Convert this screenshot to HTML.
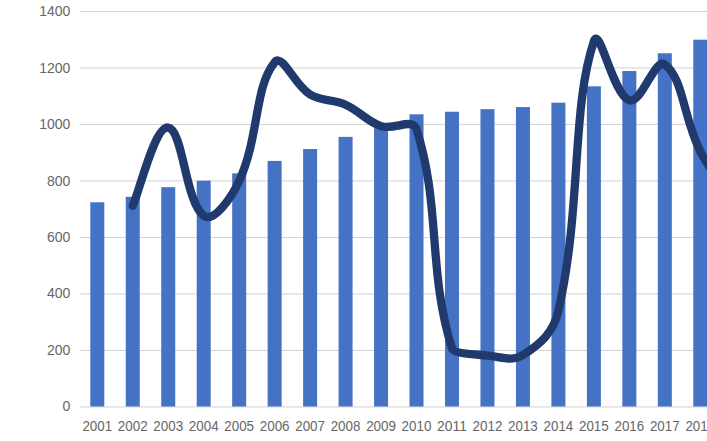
<!DOCTYPE html>
<html><head><meta charset="utf-8"><style>
html,body{margin:0;padding:0;background:#fff;width:707px;height:441px;overflow:hidden}
svg{display:block}
text{font-family:"Liberation Sans",sans-serif;font-size:14px;fill:#666666}
</style></head><body>
<svg width="707" height="441" viewBox="0 0 707 441">
<rect width="707" height="441" fill="#fff"/>
<rect x="80" y="10.90" width="627" height="1" fill="#D2D2D2"/>
<rect x="80" y="67.41" width="627" height="1" fill="#D2D2D2"/>
<rect x="80" y="123.92" width="627" height="1" fill="#D2D2D2"/>
<rect x="80" y="180.43" width="627" height="1" fill="#D2D2D2"/>
<rect x="80" y="236.94" width="627" height="1" fill="#D2D2D2"/>
<rect x="80" y="293.45" width="627" height="1" fill="#D2D2D2"/>
<rect x="80" y="349.96" width="627" height="1" fill="#D2D2D2"/>
<rect x="80" y="406.47" width="627" height="1" fill="#D2D2D2"/>
<rect x="90.30" y="202.29" width="14.0" height="204.21" fill="#4472C4"/>
<rect x="125.76" y="196.78" width="14.0" height="209.72" fill="#4472C4"/>
<rect x="161.24" y="187.18" width="14.0" height="219.32" fill="#4472C4"/>
<rect x="196.70" y="180.68" width="14.0" height="225.82" fill="#4472C4"/>
<rect x="232.18" y="173.33" width="14.0" height="233.17" fill="#4472C4"/>
<rect x="267.64" y="160.90" width="14.0" height="245.60" fill="#4472C4"/>
<rect x="303.12" y="149.03" width="14.0" height="257.47" fill="#4472C4"/>
<rect x="338.58" y="136.88" width="14.0" height="269.62" fill="#4472C4"/>
<rect x="374.06" y="126.15" width="14.0" height="280.35" fill="#4472C4"/>
<rect x="409.52" y="114.28" width="14.0" height="292.22" fill="#4472C4"/>
<rect x="445.00" y="111.74" width="14.0" height="294.76" fill="#4472C4"/>
<rect x="480.46" y="109.19" width="14.0" height="297.31" fill="#4472C4"/>
<rect x="515.93" y="107.07" width="14.0" height="299.43" fill="#4472C4"/>
<rect x="551.40" y="102.69" width="14.0" height="303.81" fill="#4472C4"/>
<rect x="586.88" y="86.31" width="14.0" height="320.19" fill="#4472C4"/>
<rect x="622.35" y="71.05" width="14.0" height="335.45" fill="#4472C4"/>
<rect x="657.82" y="53.25" width="14.0" height="353.25" fill="#4472C4"/>
<rect x="693.29" y="39.69" width="14.0" height="366.81" fill="#4472C4"/>
<path d="M132.76,205.82 C139.86,190.17 154.76,125.68 168.24,127.56 C183.14,129.64 185.07,201.68 203.70,215.71 C213.44,223.05 231.05,198.52 239.18,180.96 C259.43,137.15 254.18,87.23 274.64,62.29 C282.56,52.64 294.08,84.92 310.12,94.50 C322.46,101.88 332.22,98.71 345.58,104.67 C360.60,111.37 365.79,120.86 381.06,126.15 C394.16,130.69 412.60,116.96 416.52,129.25 C440.98,205.91 427.59,270.66 452.00,348.51 C453.58,353.58 473.14,354.26 487.46,355.58 C501.52,356.86 512.00,361.89 522.93,355.01 C540.38,344.04 553.52,332.54 558.40,310.93 C581.89,207.09 571.24,108.56 593.88,41.38 C599.61,24.36 612.97,95.08 629.35,100.43 C641.34,104.35 654.88,57.43 664.82,64.55 C683.26,77.77 683.33,118.08 700.29,151.29 C711.71,173.68 728.66,193.11 735.75,203.56" fill="none" stroke="#203A6E" stroke-width="8.3" stroke-linecap="round" stroke-linejoin="round"/>
<text x="70.3" y="16" text-anchor="end">1400</text>
<text x="70.3" y="73" text-anchor="end">1200</text>
<text x="70.3" y="129" text-anchor="end">1000</text>
<text x="70.3" y="186" text-anchor="end">800</text>
<text x="70.3" y="242" text-anchor="end">600</text>
<text x="70.3" y="298" text-anchor="end">400</text>
<text x="70.3" y="355" text-anchor="end">200</text>
<text x="70.3" y="411" text-anchor="end">0</text>
<text x="97.30" y="430.5" text-anchor="middle" textLength="29.8" lengthAdjust="spacingAndGlyphs">2001</text>
<text x="132.76" y="430.5" text-anchor="middle" textLength="29.8" lengthAdjust="spacingAndGlyphs">2002</text>
<text x="168.24" y="430.5" text-anchor="middle" textLength="29.8" lengthAdjust="spacingAndGlyphs">2003</text>
<text x="203.70" y="430.5" text-anchor="middle" textLength="29.8" lengthAdjust="spacingAndGlyphs">2004</text>
<text x="239.18" y="430.5" text-anchor="middle" textLength="29.8" lengthAdjust="spacingAndGlyphs">2005</text>
<text x="274.64" y="430.5" text-anchor="middle" textLength="29.8" lengthAdjust="spacingAndGlyphs">2006</text>
<text x="310.12" y="430.5" text-anchor="middle" textLength="29.8" lengthAdjust="spacingAndGlyphs">2007</text>
<text x="345.58" y="430.5" text-anchor="middle" textLength="29.8" lengthAdjust="spacingAndGlyphs">2008</text>
<text x="381.06" y="430.5" text-anchor="middle" textLength="29.8" lengthAdjust="spacingAndGlyphs">2009</text>
<text x="416.52" y="430.5" text-anchor="middle" textLength="29.8" lengthAdjust="spacingAndGlyphs">2010</text>
<text x="452.00" y="430.5" text-anchor="middle" textLength="29.8" lengthAdjust="spacingAndGlyphs">2011</text>
<text x="487.46" y="430.5" text-anchor="middle" textLength="29.8" lengthAdjust="spacingAndGlyphs">2012</text>
<text x="522.93" y="430.5" text-anchor="middle" textLength="29.8" lengthAdjust="spacingAndGlyphs">2013</text>
<text x="558.40" y="430.5" text-anchor="middle" textLength="29.8" lengthAdjust="spacingAndGlyphs">2014</text>
<text x="593.88" y="430.5" text-anchor="middle" textLength="29.8" lengthAdjust="spacingAndGlyphs">2015</text>
<text x="629.35" y="430.5" text-anchor="middle" textLength="29.8" lengthAdjust="spacingAndGlyphs">2016</text>
<text x="664.82" y="430.5" text-anchor="middle" textLength="29.8" lengthAdjust="spacingAndGlyphs">2017</text>
<text x="700.29" y="430.5" text-anchor="middle" textLength="29.8" lengthAdjust="spacingAndGlyphs">2018</text>
</svg></body></html>
